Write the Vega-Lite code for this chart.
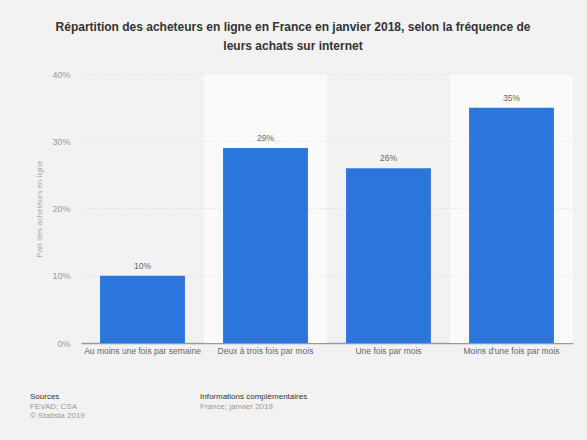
{
  "$schema": "https://vega.github.io/schema/vega-lite/v6.json",
  "width": 492,
  "height": 269,
  "autosize": "none",
  "padding": {"left": 81, "top": 74, "right": 14, "bottom": 97},
  "background": "#f2f2f2",
  "config": {"view": {"stroke": null}, "font": "Liberation Sans"},
  "title": {
    "text": ["Répartition des acheteurs en ligne en France en janvier 2018, selon la fréquence de", "leurs achats sur internet"],
    "fontSize": 12,
    "fontWeight": "bold",
    "color": "#333333",
    "anchor": "middle",
    "dx": -34,
    "offset": 17,
    "lineHeight": 19
  },
  "datasets": {
    "bars": [
      {"freq": "Au moins une fois par semaine", "value": 0.10, "shade": false},
      {"freq": "Deux à trois fois par mois", "value": 0.29, "shade": true},
      {"freq": "Une fois par mois", "value": 0.26, "shade": false},
      {"freq": "Moins d'une fois par mois", "value": 0.35, "shade": true}
    ],
    "grid": [{"v": 0.1}, {"v": 0.2}, {"v": 0.3}, {"v": 0.4}],
    "notes": [
      {"col": "Sources", "line": 1, "kind": "head", "text": "Sources"},
      {"col": "Sources", "line": 2, "kind": "body", "text": "FEVAD; CSA"},
      {"col": "Sources", "line": 3, "kind": "body", "text": "© Statista 2019"},
      {"col": "Info", "line": 1, "kind": "head", "text": "Informations complémentaires"},
      {"col": "Info", "line": 2, "kind": "body", "text": "France; janvier 2018"}
    ]
  },
  "layer": [
    {
      "layer": [
        {
          "data": {"name": "bars"},
          "transform": [{"filter": "datum.shade"}],
          "mark": {"type": "bar", "color": "#fafafa", "width": {"band": 1.4493}},
          "encoding": {
            "x": {"field": "freq", "type": "nominal", "sort": null},
            "y": {"datum": 0.4, "type": "quantitative"},
            "y2": {"datum": 0}
          }
        },
        {
          "data": {"name": "grid"},
          "mark": {"type": "rule", "color": "#dcdcdc", "strokeDash": [1, 2], "strokeWidth": 1},
          "encoding": {
            "y": {"field": "v", "type": "quantitative"}
          }
        },
        {
          "data": {"name": "bars"},
          "mark": {"type": "bar", "color": "#2a76dd"},
          "encoding": {
            "x": {
              "field": "freq",
              "type": "nominal",
              "sort": null,
              "scale": {
                "domain": ["Au moins une fois par semaine", "Deux à trois fois par mois", "Une fois par mois", "Moins d'une fois par mois"],
                "paddingInner": 0.31,
                "paddingOuter": 0.155
              },
              "axis": {
                "title": null,
                "bandPosition": 0.5,
                "labelAngle": 0,
                "labelAlign": "center",
                "labelFontSize": 8.5,
                "labelColor": "#666666",
                "labelPadding": 7,
                "labelLimit": 200,
                "ticks": false,
                "domainColor": "#999999",
                "domainWidth": 1.5,
                "grid": false
              }
            },
            "y": {
              "field": "value",
              "type": "quantitative",
              "scale": {"domain": [0, 0.4]},
              "axis": {
                "title": "Part des acheteurs en ligne",
                "titleFontSize": 8,
                "titleFontWeight": "normal",
                "titleColor": "#aaaaaa",
                "titlePadding": 8,
                "values": [0, 0.1, 0.2, 0.3, 0.4],
                "format": ".0%",
                "labelFontSize": 9,
                "labelColor": "#999999",
                "labelPadding": 11,
                "grid": false,
                "domain": false,
                "ticks": false
              }
            }
          }
        },
        {
          "data": {"name": "bars"},
          "mark": {"type": "text", "baseline": "bottom", "dy": -5, "fontSize": 8.5, "color": "#666666"},
          "encoding": {
            "x": {"field": "freq", "type": "nominal", "sort": null},
            "y": {"field": "value", "type": "quantitative"},
            "text": {"field": "value", "type": "quantitative", "format": ".0%"}
          }
        }
      ]
    },
    {
      "data": {"name": "notes"},
      "mark": {"type": "text", "align": "left", "baseline": "middle", "fontSize": 8},
      "encoding": {
        "x": {"field": "col", "type": "nominal", "scale": {"type": "point", "domain": ["Sources", "Info"], "range": [-51, 119], "padding": 0}, "axis": null},
        "y": {"field": "line", "type": "ordinal", "scale": {"type": "point", "domain": [1, 2, 3], "range": [323, 342], "padding": 0}, "axis": null},
        "color": {"field": "kind", "type": "nominal", "scale": {"domain": ["head", "body"], "range": ["#333333", "#999999"]}, "legend": null},
        "text": {"field": "text"}
      }
    }
  ],
  "resolve": {"scale": {"x": "independent", "y": "independent", "color": "independent"}}
}
